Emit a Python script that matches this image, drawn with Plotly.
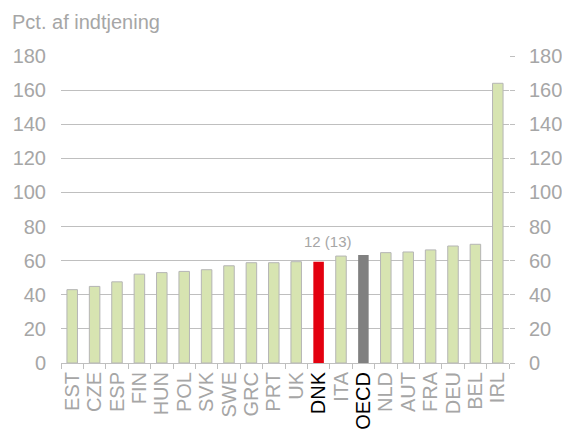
import plotly.graph_objects as go

countries = ["EST", "CZE", "ESP", "FIN", "HUN", "POL", "SVK", "SWE", "GRC", "PRT", "UK",
             "DNK", "ITA", "OECD", "NLD", "AUT", "FRA", "DEU", "BEL", "IRL"]
values = [43.0, 44.9, 47.6, 52.1, 53.0, 53.7, 54.7, 57.0, 58.8, 58.8, 59.4,
          59.4, 62.7, 63.3, 64.7, 65.1, 66.3, 68.6, 69.6, 164.0]
highlight_colors = {"DNK": "#e3000f", "OECD": "#808080"}
default_color = "#d7e4b1"
y_ticks = [0, 20, 40, 60, 80, 100, 120, 140, 160, 180]
annotation_text = "12 (13)"
annotation_country = "DNK"
annotation_y = 71.5
title_text = "Pct. af indtjening"

GRAY_TEXT = "#a6a6a6"
GRID = "#bfbfbf"
FONT = "Liberation Sans, Arial, sans-serif"

colors = [highlight_colors.get(c, default_color) for c in countries]
line_colors = ["rgba(0,0,0,0)" if c in highlight_colors else "#b5b5b5" for c in countries]

ticktext = []
for c in countries:
    if c in highlight_colors:
        ticktext.append(f"<span style='color:#000000'>{c}</span>")
    else:
        ticktext.append(c)

fig = go.Figure()
fig.add_trace(go.Bar(
    x=countries, y=values,
    marker=dict(color=colors, line=dict(color=line_colors, width=1)),
    width=0.47, showlegend=False, hoverinfo="x+y",
))
# invisible trace so the secondary (right) axis is drawn
fig.add_trace(go.Scatter(x=[countries[0]], y=[0], yaxis="y2", mode="markers",
                         marker=dict(opacity=0, size=1), showlegend=False, hoverinfo="skip"))

fig.add_annotation(x=annotation_country, y=annotation_y, text=annotation_text,
                   showarrow=False, xshift=9, yanchor="middle",
                   font=dict(family=FONT, size=15, color=GRAY_TEXT))
fig.add_annotation(x=0, y=1, xref="paper", yref="paper", text=title_text,
                   showarrow=False, xanchor="left", yanchor="middle",
                   xshift=-51, yshift=34,
                   font=dict(family=FONT, size=20, color=GRAY_TEXT))

fig.update_layout(
    width=562, height=434,
    margin=dict(l=61, r=53, t=56, b=71),
    plot_bgcolor="white", paper_bgcolor="white",
    font=dict(family=FONT, size=20, color=GRAY_TEXT),
    xaxis=dict(
        tickmode="array", tickvals=countries, ticktext=ticktext,
        range=[-0.5, len(countries) - 0.5],
        tickangle=-90, tickson="boundaries",
        ticks="outside", ticklen=5, tickcolor=GRID,
        showline=True, linecolor=GRID, linewidth=1,
        showgrid=False, tickfont=dict(family=FONT, size=20, color=GRAY_TEXT),
        automargin=False, fixedrange=True,
    ),
    yaxis=dict(
        range=[0, 180], tickvals=y_ticks,
        showgrid=True, gridcolor=GRID, gridwidth=1,
        zeroline=False, ticks="", ticklabelstandoff=14,
        tickfont=dict(family=FONT, size=20, color=GRAY_TEXT),
        automargin=False,
    ),
    yaxis2=dict(
        range=[0, 180], tickvals=y_ticks, overlaying="y", side="right",
        showgrid=False, zeroline=False, ticks="outside", ticklen=5, tickcolor=GRID,
        ticklabelstandoff=10,
        tickfont=dict(family=FONT, size=20, color=GRAY_TEXT),
        automargin=False,
    ),
)

fig.write_html("out.html")
